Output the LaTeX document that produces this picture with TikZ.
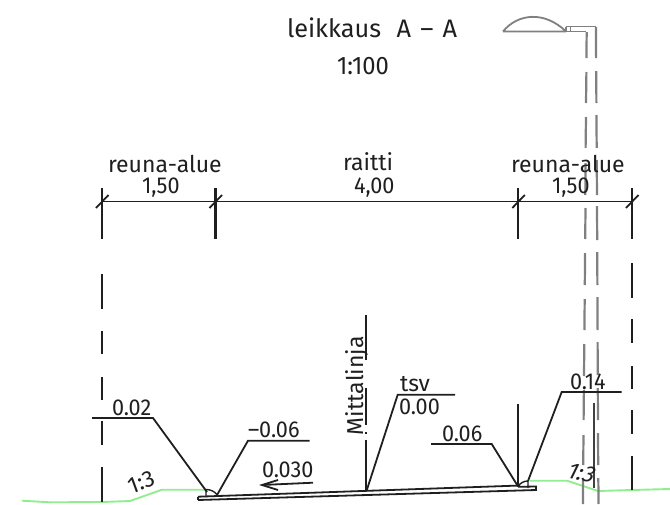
\documentclass[tikz,border=0pt]{standalone}
\usepackage{fontspec}
\setmainfont{Fira Sans}
\newfontfamily\digitfont{Fira Sans}[FakeStretch=0.94]
\usetikzlibrary{arrows.meta}
\definecolor{turf}{RGB}{144,238,144}
\tikzset{
  ink/.style={draw=black!88,line width=1.8pt,line cap=butt,line join=miter},
  heavy/.style={draw=black!88,line width=2.6pt},
  lampline/.style={draw=black!50,line width=1.8pt},
  pole/.style={draw=black!50,line width=2.2pt},
  ground/.style={draw=turf,line width=1.9pt,line join=round},
  lab/.style={anchor=base west,inner sep=0pt,outer sep=0pt,font=\fontsize{23}{23}\selectfont,text=black!88},
  num/.style={lab,font=\fontsize{23}{23}\digitfont},
  big/.style={lab,font=\fontsize{25.3}{25.3}\selectfont},
  bignum/.style={lab,font=\fontsize{25.3}{25.3}\digitfont}
}
\begin{document}
\begin{tikzpicture}[x=1pt,y=-1pt]
\useasboundingbox (0,0) rectangle (670,504);
% ground
\draw[ground] (22,500.7) -- (50,502.3) -- (102,502) -- (130,501) -- (162,489.7) -- (205,489.7);
\draw[ground] (530,480.7) -- (567,480.7) -- (598,491) -- (632,490) -- (670,489);
% lamp
\draw[lampline] (503,31.5) -- (566,31.5) (503,31.5) .. controls (518,13) and (545,11) .. (566,31.5);
\draw[lampline] (566,26.5) -- (596,26.5) (566,31.5) -- (586,31.5) (566,26.5) -- (566,31.5) (570.5,26.5) -- (570.5,31.5);
% pole
\foreach \a/\b/\c/\d in {32/58/586.7/586.4,72/103/586.4/586,117/148/586/585.6,163/195/585.6/585.3,208/239/585.5/585.2,253/285/585.1/584.8,299/330/584.7/584.4,344/376/584.3/584,390/420/583.9/583.6,435/465/583.5/583.2,480/504/583.1/582.9}
  \draw[pole] (\c,\a) -- (\d,\b);
\foreach \a/\b/\c/\d in {27/58/596/596.1,71/103/596.2/596.4,115/148/596.4/596.7,160/195/596.7/597,206/240/597/597.2,252/285/597.2/597.4,297/330/597.4/597.6,342/375/597.6/597.8,388/420/597.8/598,433/465/598/598.2,478/504/598.3/598.6}
  \draw[pole] (\c,\a) -- (\d,\b);
% dimension line and extension lines
\draw[ink] (102,201.5) -- (632,201.5);
\foreach \a/\b in {188/239,274/309,331/354,377/400,421/445,467/502}
  \draw[ink] (102,\a) -- (102,\b);
\foreach \a/\b in {188/239,263/298,319/343,366/389,410/434,456/490}
  \draw[ink] (632,\a) -- (632,\b);
\draw[heavy] (215.5,188) -- (215.5,239);
\draw[ink] (518.3,188) -- (518.3,239);
\foreach \x in {102,215.5,518.3,632}
  \draw[ink] (\x-6,208) -- (\x+6.5,195);
% slab
\draw[ink] (198,496.7) -- (520,485.5);
\draw[ink] (198,500) -- (536,490) -- (536,486.5) -- (518,486.8);
\draw[ink] (198,496.7) -- (198,500);
% ditches
\draw[ink,line width=1.4pt] (206,497) -- (206,489.5) .. controls (210,489.5) and (214,491) .. (217,494.5);
\draw[ink,line width=1.4pt] (528,488) -- (528,481) .. controls (524,481) and (520,483) .. (518,486.5);
% leaders
\draw[ink] (92,418) -- (153,418) -- (207,492);
\draw[ink] (309.5,440.7) -- (248,440.7) -- (217,495);
\draw[ink] (455,394.7) -- (397.7,394.7) -- (366.5,491);
\draw[ink] (431,444) -- (491.7,444) -- (517.5,485.5);
\draw[ink] (621.7,392) -- (561.7,392) -- (528,481);
\draw[ink] (518.3,404) -- (518.3,487);
\draw[heavy,draw=black!75] (594,403) -- (594,488);
% centre line
\draw[ink] (366.3,315) -- (366.3,360);
\draw[ink] (366.3,388) -- (366.3,425);
\draw[ink] (366.3,432) -- (366.3,434);
\draw[ink] (366.3,440) -- (366.3,491);
% arrow
\draw[ink] (313,482.7) -- (262,485);
\draw[ink] (278,480) -- (262,485) -- (278,490);
% labels
\node[big] (title) at (287,37) {leikkaus\hspace{.35em} A \hspace{.1em}– \hspace{.1em}A};
\node[bignum] (scale) at (337,74) {1:100};
\node[lab] (rl) at (108,172) {reuna-alue};
\node[num] (dl) at (142,193) {1,50};
\node[lab] (rm) at (343,170) {raitti};
\node[num] (dm) at (354,193) {4,00};
\node[lab] (rr) at (511,172) {reuna-alue};
\node[num] (dr) at (552,193) {1,50};
\node[num] (a) at (112,415) {0.02};
\node[num] (b) at (248,437) {–0.06};
\node[num] (c) at (262,477) {0.030};
\node[lab] (d) at (400,391) {tsv};
\node[num] (e) at (399,414) {0.00};
\node[num] (f) at (442,441) {0.06};
\node[num] (g) at (570,389) {0.14};
\node[lab,rotate=90] (h) at (363.5,435) {Mittalinja};
\node[lab,rotate=20] (s1) at (131,494) {1:3};
\node[lab,rotate=-12,xslant=.25,transform shape] (s2) at (565,477) {1:3};
\end{tikzpicture}
\end{document}
